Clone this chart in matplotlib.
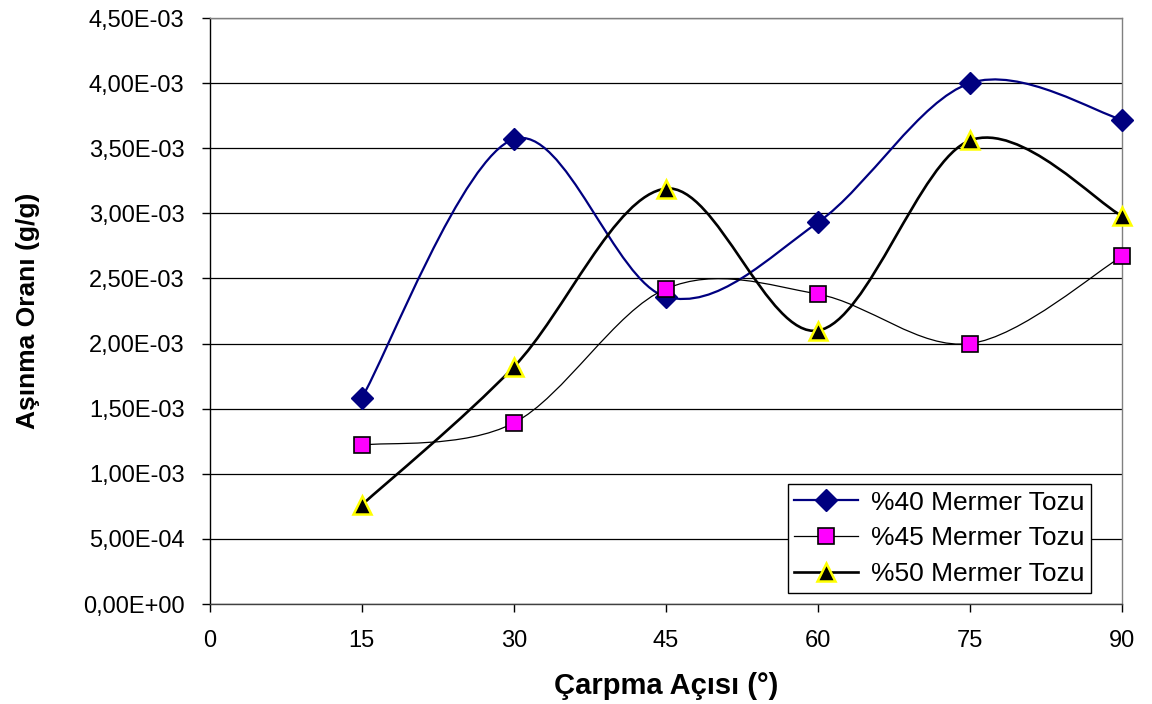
import numpy as np
import matplotlib
matplotlib.use("Agg")
import matplotlib.pyplot as plt
from matplotlib.path import Path
from matplotlib.patches import PathPatch
from matplotlib.lines import Line2D
from matplotlib.ticker import FuncFormatter

plt.rcParams['font.family'] = ['Liberation Sans', 'DejaVu Sans']

# carpma acisi (derece)
angles = [15, 30, 45, 60, 75, 90]

# asinma orani (g/g)
wear_40 = [1.58e-3, 3.57e-3, 2.36e-3, 2.93e-3, 4.00e-3, 3.72e-3]
wear_45 = [1.22e-3, 1.39e-3, 2.42e-3, 2.38e-3, 2.00e-3, 2.67e-3]
wear_50 = [0.76e-3, 1.82e-3, 3.19e-3, 2.10e-3, 3.56e-3, 2.98e-3]

labels = ['%40 Mermer Tozu', '%45 Mermer Tozu', '%50 Mermer Tozu']

y_ticks = np.arange(0, 4.51e-3, 0.5e-3)
x_ticks = np.arange(0, 91, 15)


def smooth_path(x, y):
    # Bezier curve through the points, tangents from neighbouring points (1/6 rule)
    p = np.column_stack([x, y]).astype(float)
    n = len(p)
    verts = [p[0]]
    codes = [Path.MOVETO]
    for i in range(n - 1):
        prev = p[i - 1] if i > 0 else p[i]
        nxt = p[i + 2] if i + 2 < n else p[i + 1]
        c1 = p[i] + (p[i + 1] - prev) / 6.0
        c2 = p[i + 1] - (nxt - p[i]) / 6.0
        verts += [c1, c2, p[i + 1]]
        codes += [Path.CURVE4] * 3
    return Path(verts, codes)


fig = plt.figure(figsize=(11.52, 7.04), dpi=100)
ax = fig.add_axes([0.1819, 0.1420, 0.7921, 0.8324])

styles = [
    dict(color='#000080', lw=1.6, marker='D', ms=11, mfc='#000080', mec='#000080', mew=1),
    dict(color='black', lw=0.9, marker='s', ms=12, mfc='#FF00FF', mec='black', mew=1.2),
    dict(color='black', lw=1.9, marker='^', ms=13, mfc='black', mec='#FFFF00', mew=1.8),
]

handles = []
for yv, st, lab in zip([wear_40, wear_45, wear_50], styles, labels):
    patch = PathPatch(smooth_path(angles, yv), facecolor='none',
                      edgecolor=st['color'], lw=st['lw'], zorder=3)
    ax.add_patch(patch)
    ax.plot(angles, yv, ls='none', marker=st['marker'], ms=st['ms'],
            mfc=st['mfc'], mec=st['mec'], mew=st['mew'], zorder=4, clip_on=False)
    handles.append(Line2D([], [], color=st['color'], lw=st['lw'], marker=st['marker'],
                          ms=st['ms'], mfc=st['mfc'], mec=st['mec'], mew=st['mew'],
                          label=lab))

ax.set_xlim(0, 90)
ax.set_ylim(0, 4.5e-3)
ax.set_xticks(x_ticks)
ax.set_yticks(y_ticks)
ax.yaxis.set_major_formatter(FuncFormatter(lambda v, pos: f"{v:.2E}".replace('.', ',')))

ax.grid(axis='y', color='black', lw=0.9)
ax.set_axisbelow(True)
ax.tick_params(axis='both', direction='out', length=6, width=1, labelsize=17,
               color='black')
ax.tick_params(axis='y', pad=12)
ax.tick_params(axis='x', pad=13)

ax.spines['left'].set_color('black')
ax.spines['bottom'].set_color('#404040')
ax.spines['top'].set_color('#808080')
ax.spines['right'].set_color('#808080')
for s in ax.spines.values():
    s.set_linewidth(1)

ax.set_xlabel('Çarpma Açısı (°)', fontsize=21, fontweight='bold', labelpad=14)
ax.set_ylabel('Aşınma Oranı (g/g)', fontsize=19, fontweight='bold', labelpad=31)

leg = ax.legend(handles=handles, loc='lower right', bbox_to_anchor=(0.966, 0.019),
                borderaxespad=0, fontsize=19, frameon=True, fancybox=False,
                edgecolor='black', handlelength=2.4, labelspacing=0.45,
                borderpad=0.25, handletextpad=0.5)
leg.get_frame().set_linewidth(1)
leg.get_frame().set_alpha(1)

fig.savefig('out.png', dpi=100)
